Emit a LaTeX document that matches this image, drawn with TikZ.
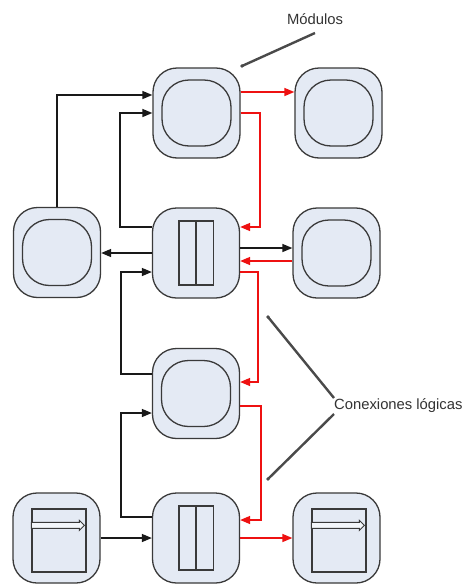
\documentclass[tikz,border=0pt]{standalone}
\usepackage{fontspec}
\setmainfont{Liberation Sans}
\usetikzlibrary{arrows.meta}
\definecolor{modfill}{HTML}{E4EAF4}
\definecolor{modedge}{HTML}{3A3A3A}
\definecolor{linkred}{HTML}{EE1111}
\definecolor{notegray}{HTML}{4A4A4A}
\begin{document}
\begin{tikzpicture}[x=1pt,y=-1pt,
  module/.style={draw=modedge, fill=modfill, line width=1.3pt, rounded corners=24pt,
    minimum width=87pt, minimum height=90pt, inner sep=0pt},
  roundcore/.style={draw=modedge, line width=1.3pt, rounded corners=27pt,
    minimum width=69pt, minimum height=66pt, inner sep=0pt},
  barcell/.style={draw=modedge, line width=1.3pt, minimum width=16.5pt,
    minimum height=64pt, inner sep=0pt},
  wincell/.style={draw=modedge, line width=1.3pt, minimum width=54pt,
    minimum height=63pt, inner sep=0pt},
  winbar/.style={draw=modedge, fill=white!60!modfill, line width=1pt},
  blk/.style={draw=black!90, line width=1.4pt, -{Triangle[length=10pt,width=8pt]}},
  rlink/.style={draw=linkred, line width=1.4pt, -{Triangle[length=10pt,width=8pt]}},
  noteline/.style={draw=notegray, line width=2.4pt},
  notetext/.style={text=black!80, font=\fontsize{14.8pt}{17pt}\selectfont, inner sep=0pt},
]
\fill[white] (0,0) rectangle (465,584);
\useasboundingbox (0,0) rectangle (465,584);

% modules
\node[module] (m1) at (196.5,113) {};
\node[module] (m2) at (338.5,113) {};
\node[module] (m3) at (57,252.5) {};
\node[module] (m4) at (196,253) {};
\node[module] (m5) at (336.5,253) {};
\node[module] (m6) at (196,393.5) {};
\node[module] (m7) at (56.5,538) {};
\node[module] (m8) at (196,538) {};
\node[module] (m9) at (336.5,538) {};

% round cores
\foreach \m in {m1,m2,m3,m5,m6}
  \node[roundcore] at (\m.center) {};

% split cores
\foreach \m in {m4,m8}{
  \node[barcell, anchor=east] at (\m.center) {};
  \node[barcell, anchor=west] at (\m.center) {};
}

% window cores
\foreach \m in {m7,m9}{
  \node[wincell] (w\m) at ([shift={(2.5pt,-2.5pt)}]\m.center) {};
  \draw[winbar] ([yshift=-14pt]w\m.north west) -- ++(48pt,0) -- ++(0,2pt)
    -- ++(5pt,-5pt) -- ++(-5pt,-5pt) -- ++(0,2pt) -- ++(-48pt,0) -- cycle;
}

% black connections
\draw[blk] (m3.north) |- ([yshift=18pt]m1.west);
\draw[blk] ([yshift=26pt]m4.west) -- ++(-32pt,0) |- (m1.west);
\draw[blk] (m4.west) -- (m4.west -| m3.east);
\draw[blk] ([yshift=19.5pt]m6.west) -- ++(-31pt,0) |- ([yshift=-19pt]m4.west);
\draw[blk] ([yshift=21pt]m8.west) -- ++(-31pt,0) |- ([yshift=-19.5pt]m6.west);
\draw[blk] (m7.east) -- (m8.west);
\draw[blk] ([yshift=5pt]m4.east) -- ([yshift=5pt]m4.east -| m5.west);

% red connections
\draw[rlink] ([yshift=21pt]m1.east) -- ([yshift=21pt]m1.east -| m2.west);
\draw[rlink] (m1.east) -- ++(19.5pt,0) |- ([yshift=26pt]m4.east);
\draw[rlink] ([yshift=-8pt]m5.west) -- ([yshift=-8pt]m5.west -| m4.east);
\draw[rlink] ([yshift=-19pt]m4.east) -- ++(18pt,0) |- ([yshift=11.5pt]m6.east);
\draw[rlink] ([yshift=-12.5pt]m6.east) -- ++(21pt,0) |- ([yshift=18pt]m8.east);
\draw[rlink] (m8.east) -- (m9.west);

% notes
\node[notetext] (nmod) at (315,19) {Módulos};
\coordinate (pmod) at (242,66);
\draw[noteline] (315,33) -- (pmod);
\fill[notegray] (pmod) circle (1.8pt);

\node[notetext, anchor=west] (ncon) at (334,406) {Conexiones lógicas};
\coordinate (pcon1) at (268,317);
\coordinate (pcon2) at (268,479);
\draw[noteline] ([yshift=8pt]ncon.west) -- (pcon1);
\draw[noteline] ([yshift=-8pt]ncon.west) -- (pcon2);
\fill[notegray] (pcon1) circle (1.8pt);
\fill[notegray] (pcon2) circle (1.8pt);
\end{tikzpicture}
\end{document}
